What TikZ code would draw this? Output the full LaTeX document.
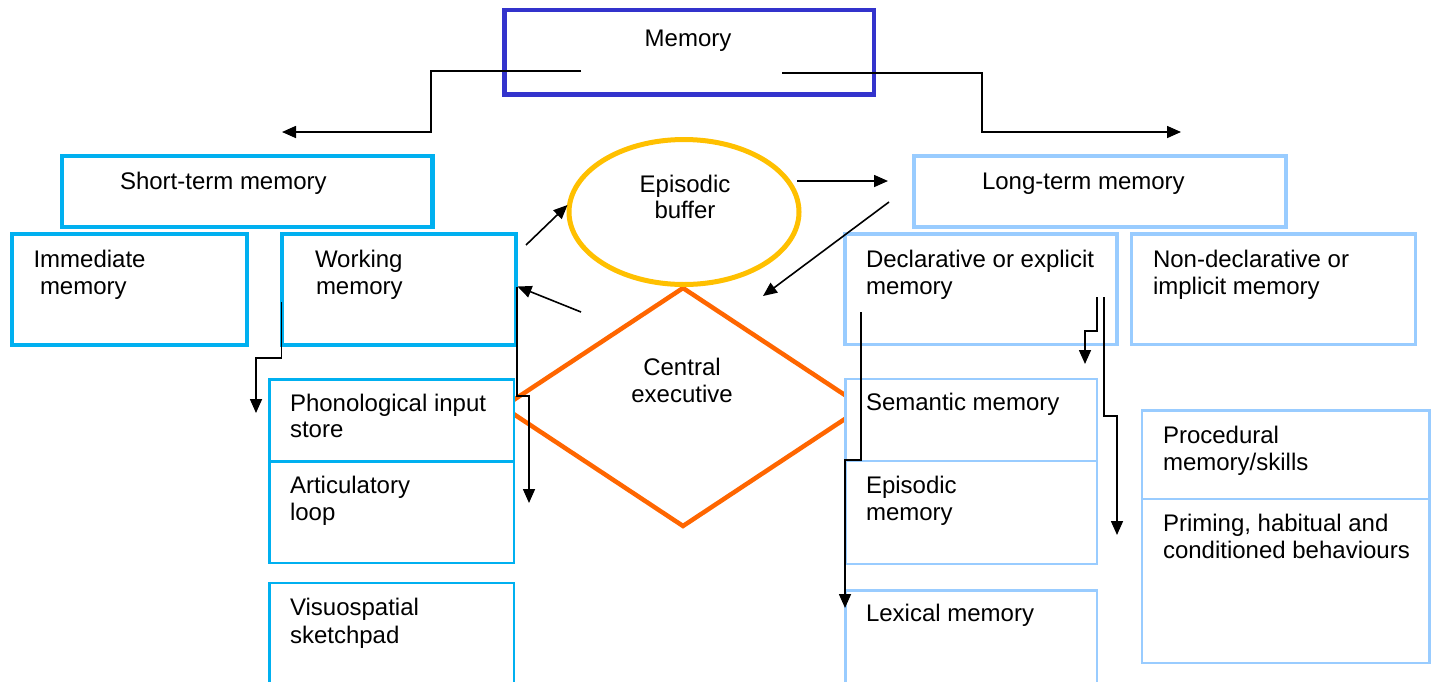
\documentclass[tikz,border=0pt]{standalone}
\usepackage{fontspec}
\setmainfont{Liberation Sans}
\usetikzlibrary{arrows.meta,shapes.geometric}
\definecolor{memblue}{RGB}{51,51,204}
\definecolor{cyanb}{RGB}{0,176,240}
\definecolor{ltblue}{RGB}{153,204,255}
\definecolor{yel}{RGB}{255,192,0}
\definecolor{orng}{RGB}{255,102,0}
\newcommand\mybox[6]{\node[#1, minimum width={#4-#2}, minimum height={#5-#3}] (#6) at ({(#2+#4)/2},{(#3+#5)/2}) {};}
\begin{document}
\begin{tikzpicture}[x=1pt,y=-1pt,
  every node/.style={font=\fontsize{24}{28}\selectfont, inner sep=0pt, outer sep=0pt},
  bx/.style={draw, rectangle, fill=white},
  membox/.style={bx, draw=memblue, line width=4.5pt},
  stmbig/.style={bx, draw=cyanb, line width=4.5pt},
  stmmid/.style={bx, draw=cyanb, line width=4pt},
  stmsmall/.style={bx, draw=cyanb, line width=2.5pt},
  ltmbig/.style={bx, draw=ltblue, line width=4pt},
  ltmmid/.style={bx, draw=ltblue, line width=3.5pt},
  ltmsmall/.style={bx, draw=ltblue, line width=2.4pt},
  txt/.style={anchor=base west},
  ctxt/.style={anchor=base},
  ln/.style={draw=black, line width=1.6pt},
  arr/.style={ln, -{Triangle[length=14pt,width=12pt]}}]
\useasboundingbox (0,0) rectangle (1437,681);
\clip (0,0) rectangle (1437,681);
\fill[white] (0,0) rectangle (1437,681);

% central executive and episodic buffer
\node[draw=orng, line width=4.5pt, diamond, minimum width=360, minimum height=238] (ce) at (683,407) {};
\node[draw=yel, line width=5pt, ellipse, fill=white, minimum width=230, minimum height=145] (eb) at (684,212) {};

% boxes
\mybox{membox}{504.5}{10}{874}{94.5}{mem}
\mybox{stmbig}{62}{156}{432.5}{227}{stm}
\mybox{stmmid}{12}{234}{247}{344.5}{imm}
\mybox{stmmid}{281.5}{234}{515.5}{344.5}{wm}
\mybox{stmsmall}{269.7}{379.7}{514}{461.3}{pis}
\mybox{stmsmall}{269.7}{461.3}{514}{563}{al}
\mybox{stmsmall}{269.7}{583}{514}{720}{vs}
\mybox{ltmbig}{914}{156}{1286}{227}{ltm}
\mybox{ltmmid}{845}{234}{1117}{344.5}{dec}
\mybox{ltmmid}{1131.5}{234}{1415.5}{344.5}{ndec}
\mybox{ltmsmall}{845.5}{379}{1097}{461}{sem}
\mybox{ltmsmall}{845.5}{461}{1097}{564}{epi}
\mybox{ltmsmall}{845.5}{590.5}{1097}{720}{lex}
\mybox{ltmsmall}{1142}{410.5}{1429.5}{499}{proc}
\mybox{ltmsmall}{1142}{499}{1429.5}{663}{prim}

% texts
\node[ctxt] (t-mem) at (688,46) {Memory};
\node[txt] (t-stm) at (120,189) {Short-term memory};
\node[txt] (t-ltm) at (982,189) {Long-term memory};
\node[txt] (t-imm1) at (33.5,267) {Immediate};
\node[txt] (t-imm2) at (40,294) {memory};
\node[txt] (t-wm1) at (315,267) {Working};
\node[txt] (t-wm2) at (316,294) {memory};
\node[ctxt] (t-eb1) at (685,192) {Episodic};
\node[ctxt] (t-eb2) at (685,218.5) {buffer};
\node[ctxt] (t-ce1) at (682,375) {Central};
\node[ctxt] (t-ce2) at (682,402) {executive};
\node[txt] (t-dec1) at (866,267) {Declarative or explicit};
\node[txt] (t-dec2) at (866,294) {memory};
\node[txt] (t-ndec1) at (1153,267) {Non-declarative or};
\node[txt] (t-ndec2) at (1153,294) {implicit memory};
\node[txt] (t-pis1) at (290,411) {Phonological input};
\node[txt] (t-pis2) at (290,437.5) {store};
\node[txt] (t-al1) at (290,493.5) {Articulatory};
\node[txt] (t-al2) at (290,520) {loop};
\node[txt] (t-vs1) at (290,615.5) {Visuospatial};
\node[txt] (t-vs2) at (290,643) {sketchpad};
\node[txt] (t-sem) at (866,410.5) {Semantic memory};
\node[txt] (t-epi1) at (866,493.5) {Episodic};
\node[txt] (t-epi2) at (866,520) {memory};
\node[txt] (t-lex) at (866,621.5) {Lexical memory};
\node[txt] (t-proc1) at (1163,443) {Procedural};
\node[txt] (t-proc2) at (1163,470) {memory/skills};
\node[txt] (t-prim1) at (1163,531.5) {Priming, habitual and};
\node[txt] (t-prim2) at (1163,558) {conditioned behaviours};

% connector end points
\coordinate (m-l) at (581,71);
\coordinate (m-lend) at (282,132);
\coordinate (m-r) at (782,73);
\coordinate (m-rend) at (1181,132);
\coordinate (eb-r) at (797,181);
\coordinate (eb-rend) at (888,181);
\coordinate (ltm-s) at (889,202);
\coordinate (ltm-send) at (763,296);
\coordinate (wm-eb) at (526,245);
\coordinate (wm-ebend) at (567.5,205);
\coordinate (ce-wm) at (581,312);
\coordinate (ce-wmend) at (517.5,286.5);
\coordinate (wm-a) at (281.5,302);
\coordinate (wm-aend) at (256,413);
\coordinate (wm-b) at (517,287);
\coordinate (wm-bend) at (529,503);
\coordinate (dec-a) at (861,312);
\coordinate (dec-aend) at (845,608);
\coordinate (dec-b) at (1097,297);
\coordinate (dec-bend) at (1085,364);
\coordinate (dec-c) at (1104,297);
\coordinate (dec-cend) at (1117,535);

% connectors
\draw[arr] (m-l) -- (431,71) -- (431,132) -- (m-lend);
\draw[arr] (m-r) -- (982,73) -- (982,132) -- (m-rend);
\draw[arr] (eb-r) -- (eb-rend);
\draw[arr] (ltm-s) -- (ltm-send);
\draw[arr] (wm-eb) -- (wm-ebend);
\draw[arr] (ce-wm) -- (ce-wmend);
\draw[arr] (wm-a) -- (281.5,358) -| (wm-aend);
\draw[arr] (wm-b) -- (517,396) -| (wm-bend);
\draw[arr] (dec-a) -- (861,460) -| (dec-aend);
\draw[arr] (dec-b) -- (1097,331) -| (dec-bend);
\draw[arr] (dec-c) -- (1104,416) -| (dec-cend);
\end{tikzpicture}
\end{document}
